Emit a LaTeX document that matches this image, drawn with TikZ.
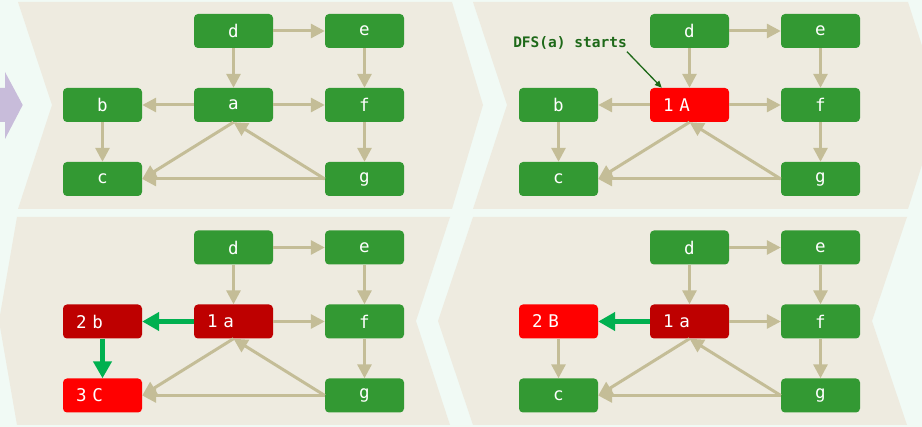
\documentclass[tikz,border=0pt]{standalone}
\usepackage{fontspec}
\setmonofont{DejaVu Sans Mono}
\usetikzlibrary{arrows.meta}

\definecolor{hintergrund}{RGB}{241,250,245}
\definecolor{feld}{RGB}{238,235,224}
\definecolor{knoten}{RGB}{51,153,51}
\definecolor{aktiv}{RGB}{255,0,0}
\definecolor{fertig}{RGB}{190,0,0}
\definecolor{kante}{RGB}{196,189,151}
\definecolor{pfad}{RGB}{0,176,80}
\definecolor{notiz}{RGB}{30,105,25}
\definecolor{pfeil}{RGB}{200,188,218}

\tikzset{
    vertex/.style={fill=knoten, rounded corners=4pt, minimum width=79pt,
        minimum height=34pt, inner sep=0pt, text=white,
        font=\ttfamily\fontsize{17.5}{20}\selectfont},
    nummer/.style={text width=53pt, align=left, inner xsep=13pt},
    kantenpfeil/.style={kante, line width=3pt, -{Triangle[length=14pt,width=14pt]}},
    dfspfeil/.style={pfad, line width=5.5pt, -{Triangle[length=17pt,width=18pt]}}
}

\begin{document}
\begin{tikzpicture}[x=1pt, y=-1pt]
        % Rahmen und Hintergrund
        \useasboundingbox (0,0) rectangle (922,427);
        \clip (0,0) rectangle (922,427);
        \fill[hintergrund] (0,0) rectangle (922,427);

        % Pfeilfelder oben (nach rechts) und unten (nach links)
        \fill[feld] (18,2) -- (452,2) -- (483,105) -- (452,209) -- (18,209) -- (52,105) -- cycle;
        \fill[feld] (473,2) -- (908,2) -- (941,105) -- (908,209) -- (473,209) -- (507,105) -- cycle;
        \fill[feld] (17,217) -- (450,217) -- (416,321) -- (450,425) -- (17,425) -- (-1,321) -- cycle;
        \fill[feld] (473,217) -- (907,217) -- (872,321) -- (907,425) -- (473,425) -- (438,321) -- cycle;
        \fill[pfeil] (0,88) -- (5,88) -- (5,72) -- (22.7,105) -- (5,139) -- (5,122) -- (0,122) -- cycle;

        % Bild 1: Ausgangsgraph
        \begin{scope}[name prefix=p1-]
            \node[vertex] (d) at (233.5,31) {d};
            \node[vertex] (e) at (364.5,31) {e};
            \node[vertex] (b) at (102.5,105) {b};
            \node[vertex] (a) at (233.5,105) {a};
            \node[vertex] (f) at (364.5,105) {f};
            \node[vertex] (c) at (102.5,179) {c};
            \node[vertex] (g) at (364.5,179) {g};
            \path[kantenpfeil]
                (d) edge (e) (d) edge (a) (e) edge (f) (f) edge (g)
                (a) edge (b) (a) edge (f) (b) edge (c)
                (a.south) edge (c.east) (g.west) edge (a.south) (g.west) edge (c.east);
        \end{scope}

        % Bild 2: Start bei a
        \begin{scope}[shift={(456,0)}, name prefix=p2-]
            \node[vertex] (d) at (233.5,31) {d};
            \node[vertex] (e) at (364.5,31) {e};
            \node[vertex] (b) at (102.5,105) {b};
            \node[vertex, nummer, fill=aktiv] (a) at (233.5,105) {1 A};
            \node[vertex] (f) at (364.5,105) {f};
            \node[vertex] (c) at (102.5,179) {c};
            \node[vertex] (g) at (364.5,179) {g};
            \path[kantenpfeil]
                (d) edge (e) (d) edge (a) (e) edge (f) (f) edge (g)
                (a) edge (b) (a) edge (f) (b) edge (c)
                (a.south) edge (c.east) (g.west) edge (a.south) (g.west) edge (c.east);
            \node[inner sep=0pt, text=notiz, font=\ttfamily\bfseries\fontsize{14.5}{16}\selectfont]
                (start) at (114,43) {DFS(a) starts};
            \draw[notiz, line width=1.3pt, -{Triangle[length=7pt,width=6pt]}]
                ([yshift=-2pt]start.south east) -- ([xshift=12pt]a.north west);
        \end{scope}

        % Bild 3: b und c besucht
        \begin{scope}[shift={(0,216.5)}, name prefix=p3-]
            \node[vertex] (d) at (233.5,31) {d};
            \node[vertex] (e) at (364.5,31) {e};
            \node[vertex, nummer, fill=fertig] (b) at (102.5,105) {2 b};
            \node[vertex, nummer, fill=fertig] (a) at (233.5,105) {1 a};
            \node[vertex] (f) at (364.5,105) {f};
            \node[vertex, nummer, fill=aktiv] (c) at (102.5,179) {3 C};
            \node[vertex] (g) at (364.5,179) {g};
            \path[kantenpfeil]
                (d) edge (e) (d) edge (a) (e) edge (f) (f) edge (g)
                (a) edge (f)
                (a.south) edge (c.east) (g.west) edge (a.south) (g.west) edge (c.east);
            \path[dfspfeil] (a) edge (b) (b) edge (c);
        \end{scope}

        % Bild 4: weiter bei b
        \begin{scope}[shift={(456,216.5)}, name prefix=p4-]
            \node[vertex] (d) at (233.5,31) {d};
            \node[vertex] (e) at (364.5,31) {e};
            \node[vertex, nummer, fill=aktiv] (b) at (102.5,105) {2 B};
            \node[vertex, nummer, fill=fertig] (a) at (233.5,105) {1 a};
            \node[vertex] (f) at (364.5,105) {f};
            \node[vertex] (c) at (102.5,179) {c};
            \node[vertex] (g) at (364.5,179) {g};
            \path[kantenpfeil]
                (d) edge (e) (d) edge (a) (e) edge (f) (f) edge (g)
                (a) edge (f) (b) edge (c)
                (a.south) edge (c.east) (g.west) edge (a.south) (g.west) edge (c.east);
            \path[dfspfeil] (a) edge (b);
        \end{scope}

    \end{tikzpicture}
\end{document}
